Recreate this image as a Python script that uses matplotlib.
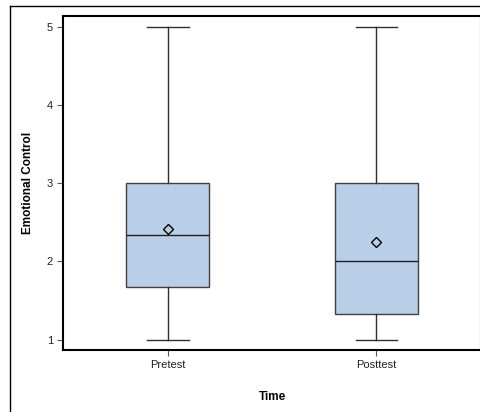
import matplotlib.pyplot as plt
from matplotlib.lines import Line2D

plt.rcParams['font.family'] = ['Liberation Sans', 'DejaVu Sans']

# box plot summary values
groups = ['Pretest', 'Posttest']
whisker_low = [1, 1]
q1 = [1.667, 1.333]
medians = [2.333, 2.0]
q3 = [3, 3]
whisker_high = [5, 5]
means = [2.41, 2.25]
yticks = [1, 2, 3, 4, 5]

stats = []
for i in range(len(groups)):
    stats.append({'label': groups[i], 'whislo': whisker_low[i], 'q1': q1[i],
                  'med': medians[i], 'q3': q3[i], 'whishi': whisker_high[i],
                  'mean': means[i], 'fliers': []})

fig = plt.figure(figsize=(4.8, 4.12), dpi=100)
ax = fig.add_axes([63.3 / 480, 1 - 350 / 412, 417.5 / 480, 334 / 412])

ax.bxp(stats, positions=[1, 2], widths=0.4, patch_artist=True, showmeans=True,
       boxprops=dict(facecolor='#b9cfe7', edgecolor='#404040', linewidth=1.0),
       medianprops=dict(color='#202020', linewidth=1.0),
       whiskerprops=dict(color='#303030', linewidth=1.0),
       capprops=dict(color='#303030', linewidth=1.0),
       capwidths=0.2,
       meanprops=dict(marker='D', markerfacecolor='none', markeredgecolor='black',
                      markersize=5, markeredgewidth=1.0))

ax.set_xlim(0.5, 2.5)
ax.set_ylim(0.867, 5.137)
ax.set_yticks(yticks)
ax.set_xticks([1, 2])
ax.set_xticklabels(groups)
ax.tick_params(axis='both', labelsize=8, length=4.5, width=0.8, color='#555555',
               labelcolor='#222222', pad=3)
for s in ax.spines.values():
    s.set_linewidth(1.5)
    s.set_color('black')

ax.set_ylabel('Emotional Control', fontsize=8.5, fontweight='bold')
ax.set_xlabel('Time', fontsize=8.5, fontweight='bold')
ax.xaxis.set_label_coords(0.5, -0.123)
ax.yaxis.set_label_coords(-0.07, 0.5)

# outer frame of the graph (cropped at right and bottom)
fx = 10 / 480
fy = 1 - 6 / 412
fig.add_artist(Line2D([fx, fx], [-0.05, fy], color='black', linewidth=1.0))
fig.add_artist(Line2D([fx, 1.05], [fy, fy], color='black', linewidth=1.0))

fig.savefig('out.png', dpi=100)
